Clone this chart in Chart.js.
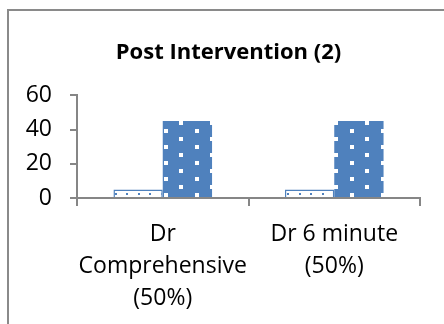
<!DOCTYPE html>
<html>
<head>
<meta charset="utf-8">
<script src="https://cdn.jsdelivr.net/npm/chart.js@4.4.1/dist/chart.umd.min.js"></script>
<style>
  html, body { margin: 0; padding: 0; background: #ffffff; }
  #wrap { position: relative; width: 444px; height: 324px; overflow: hidden; }
  #frame { position: absolute; left: 7px; top: 9px; width: 600px; height: 600px;
           border-left: 2px solid #8a8a8a; border-top: 2px solid #8a8a8a; }
  #c { position: absolute; left: 0; top: 0; }
</style>
</head>
<body>
<div id="wrap">
  <div id="frame"></div>
  <canvas id="c" width="444" height="324"></canvas>
</div>
<script>
// Chart data
const categories = [["Dr", "Comprehensive", "(50%)"], ["Dr 6 minute", "(50%)"]];
const seriesOne = [5, 5];
const seriesTwo = [45, 45];
const yTicks = [0, 20, 40, 60];
const chartTitle = "Post Intervention (2)";

const BLUE = "#4f81bd";
const AXIS = "#868686";
const FONT = "'Open Sans', 'DejaVu Sans', sans-serif";

const canvas = document.getElementById("c");
const ctx = canvas.getContext("2d");

// Small repeating tiles used as bar fills
function tilePattern(w, h, bg, fg, rects) {
  const t = document.createElement("canvas");
  t.width = w; t.height = h;
  const tc = t.getContext("2d");
  tc.fillStyle = bg; tc.fillRect(0, 0, w, h);
  tc.fillStyle = fg;
  rects.forEach(r => tc.fillRect(r[0], r[1], r[2], r[3]));
  return ctx.createPattern(t, "repeat");
}
// white with fine blue dots
const dottedFill = tilePattern(23, 8, "#ffffff", BLUE, [[0, 1, 2, 2], [11, 1, 2, 2]]);
// blue with staggered white squares
const squaresFill = tilePattern(31, 16, BLUE, "#ffffff", [[9, 1, 4, 4], [24, 9, 4, 4]]);

new Chart(ctx, {
  type: "bar",
  data: {
    labels: categories,
    datasets: [
      { label: "Series 1", data: seriesOne, backgroundColor: dottedFill,
        borderColor: BLUE, borderWidth: 1.5, borderSkipped: "bottom" },
      { label: "Series 2", data: seriesTwo, backgroundColor: squaresFill,
        borderWidth: 0 }
    ]
  },
  options: {
    responsive: false,
    animation: false,
    devicePixelRatio: 1,
    layout: { padding: { left: 13, right: 0, top: 0, bottom: 0 } },
    datasets: { bar: { categoryPercentage: 0.575, barPercentage: 1.0 } },
    plugins: {
      legend: { display: false },
      tooltip: { enabled: false },
      title: {
        display: true,
        text: chartTitle,
        color: "#000000",
        font: { family: FONT, size: 22, weight: "bold", lineHeight: 1.2 },
        padding: { top: 40, bottom: 29 }
      }
    },
    scales: {
      x: {
        offset: true,
        grid: { offset: true, drawOnChartArea: false, drawTicks: true,
                tickLength: 8, color: AXIS, lineWidth: 2 },
        border: { display: true, color: AXIS, width: 2 },
        ticks: { color: "#000000", padding: 12, maxRotation: 0, autoSkip: false,
                 font: { family: FONT, size: 23, lineHeight: 1.4 } },
        afterFit(scale) { scale.height = 126; scale.paddingLeft = 0; scale.paddingRight = 0; }
      },
      y: {
        min: 0, max: 60,
        grid: { drawOnChartArea: false, drawTicks: true, tickLength: 7,
                color: AXIS, lineWidth: 2 },
        border: { display: true, color: AXIS, width: 2 },
        ticks: { color: "#000000", padding: 18,
                 font: { family: FONT, size: 23 } },
        afterBuildTicks(scale) { scale.ticks = yTicks.map(v => ({ value: v })); },
        afterFit(scale) { scale.width = 64; scale.paddingTop = 0; scale.paddingBottom = 0; }
      },
      // empty right-hand margin beside the plot
      yRight: {
        type: "linear",
        position: "right",
        display: true,
        grid: { display: false },
        border: { display: false },
        ticks: { display: false },
        afterFit(scale) { scale.width = 24; scale.paddingTop = 0; scale.paddingBottom = 0; }
      }
    }
  }
});
</script>
</body>
</html>
